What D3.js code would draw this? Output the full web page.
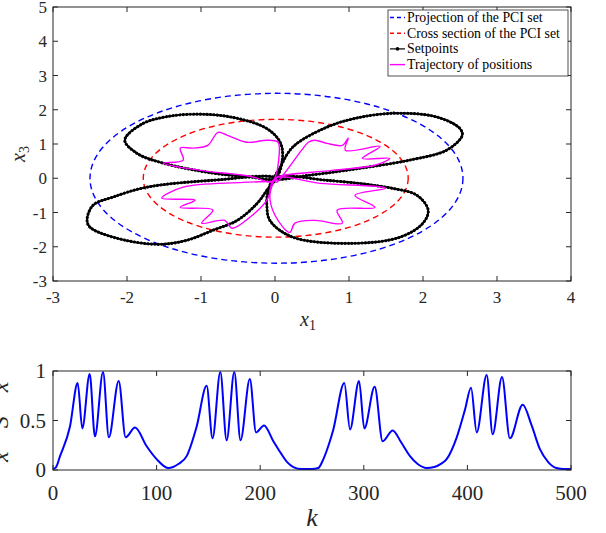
<!DOCTYPE html>
<html><head><meta charset="utf-8">
<script src="https://cdn.jsdelivr.net/npm/d3@7"></script>
<style>
body{margin:0;background:#fff;}
svg{display:block;font-family:"Liberation Serif","Times New Roman",serif;}
</style></head>
<body><svg id="c" width="606" height="533"></svg>
<script>
// ---------- data ----------
const xTicksTop = [-3,-2,-1,0,1,2,3,4];
const yTicksTop = [-3,-2,-1,0,1,2,3,4,5];
const projCenter = [0.02, 0];
const projRadii = [2.52, 2.48];
const crossCenter = [0.01, 0];
const crossRadii = [1.79, 1.72];

const lobeUL = [[0,0],[0.1,0.55],[0.07,1.05],[-0.11,1.45],[-0.51,1.75],[-0.97,1.87],[-1.46,1.8],[-1.8,1.58],[-2.03,1.11],[-1.86,0.72],[-1.51,0.44],[-0.84,0.15],[-0.35,0.04]];
const lobeUR = [[0,0],[0.07,0.32],[0.24,0.91],[0.7,1.49],[1.15,1.78],[1.69,1.9],[2.2,1.78],[2.5,1.45],[2.53,1.25],[2.32,0.82],[1.82,0.53],[1.15,0.29],[0.47,0.09]];
const lobeLR = [[0,0],[-0.1,-0.45],[-0.11,-0.8],[-0.07,-1.23],[0.24,-1.72],[1.05,-1.9],[1.69,-1.72],[2.0,-1.31],[2.07,-0.93],[1.92,-0.5],[1.6,-0.3],[0.7,-0.06]];
const lobeLL = [[0,0],[-0.11,-0.35],[-0.24,-0.73],[-0.51,-1.23],[-0.84,-1.52],[-1.19,-1.81],[-1.59,-1.93],[-2.19,-1.72],[-2.5,-1.43],[-2.54,-1.23],[-2.46,-0.79],[-2.19,-0.55],[-1.73,-0.26],[-0.84,-0.06]];

const trajUL = [[0,0],[-0.03,-0.12],[-0.34,0.06],[-1.01,0.23],[-1.51,0.44],[-1.24,0.53],[-1.28,0.88],[-1.11,0.88],[-0.91,0.96],[-0.77,1.34],[-0.65,1.26],[-0.38,1.05],[-0.11,1.11],[0.04,1.05],[0.05,0.53]];
const trajUR = [[0,0],[0.02,-0.12],[0.14,0.18],[0.36,0.82],[0.45,1.05],[0.54,1.11],[0.7,1.02],[0.91,0.96],[0.99,1.17],[0.95,0.82],[1.42,0.93],[1.18,0.58],[1.55,0.58],[1.35,0.38],[0.77,0.23]];
const trajLL = [[0,0],[0.03,-0.06],[-0.43,-0.12],[-1.24,-0.26],[-1.53,-0.58],[-1.08,-0.64],[-1.28,-0.85],[-0.84,-0.93],[-0.99,-1.31],[-0.68,-1.23],[-0.58,-1.46],[-0.34,-1.14],[-0.11,-0.64]];
const trajLR = [[0,0],[0.61,-0.15],[1.49,-0.29],[1.08,-0.5],[1.35,-0.85],[0.84,-0.93],[0.91,-1.31],[0.54,-1.23],[0.27,-1.31],[0.2,-1.58],[0,-1.08],[-0.07,-0.5]];

const legendLabels = ["Projection of the PCI set","Cross section of the PCI set","Setpoints","Trajectory of positions"];

const xTicksBot = [0,100,200,300,400,500];
const yTicksBot = [0,0.5,1];
const kVals = [0,3,6.8,16.4,23.8,28.3,35.4,40.5,48.3,53.9,63.4,70.1,79.2,90.4,100,111.3,116,121,129,138.7,148.3,154,161.5,167.6,175,181,190,196,203.7,212.7,217.5,226,232,240,250,256,261,266,270.6,281.2,286.7,295.4,300.5,310.5,318.2,327.9,336,344.6,352,360.7,368,374,380,389.7,397.7,403.5,409,418.6,424.4,433.4,441,453.4,462,470,478,486,493,500];
const rVals = [0.01,0.03,0.14,0.44,0.88,0.42,0.97,0.34,0.99,0.33,0.90,0.33,0.43,0.24,0.11,0.02,0.03,0.06,0.14,0.44,0.85,0.32,0.99,0.30,0.99,0.30,0.92,0.38,0.45,0.29,0.21,0.08,0.03,0.01,0.01,0.02,0.11,0.25,0.41,0.88,0.41,0.90,0.42,0.84,0.29,0.40,0.28,0.14,0.06,0.02,0.03,0.06,0.11,0.33,0.61,0.83,0.38,0.96,0.36,0.94,0.32,0.66,0.45,0.21,0.08,0.02,0.01,0.01];

// ---------- drawing ----------
const svg = d3.select("#c");
const axisColor = "#262626";

const T = {l:53, r:571, t:7, b:281};
const x = d3.scaleLinear().domain([-3,4]).range([T.l,T.r]);
const y = d3.scaleLinear().domain([-3,5]).range([T.b,T.t]);

const gTop = svg.append("g");
gTop.append("clipPath").attr("id","clipTop").append("rect")
  .attr("x",T.l).attr("y",T.t).attr("width",T.r-T.l).attr("height",T.b-T.t);
const plotTop = gTop.append("g").attr("clip-path","url(#clipTop)");

plotTop.append("ellipse")
  .attr("cx",x(projCenter[0])).attr("cy",y(projCenter[1]))
  .attr("rx",x(projRadii[0])-x(0)).attr("ry",y(0)-y(projRadii[1]))
  .attr("fill","none").attr("stroke","#0000ff").attr("stroke-width",1.4).attr("stroke-dasharray","6,4");
plotTop.append("ellipse")
  .attr("cx",x(crossCenter[0])).attr("cy",y(crossCenter[1]))
  .attr("rx",x(crossRadii[0])-x(0)).attr("ry",y(0)-y(crossRadii[1]))
  .attr("fill","none").attr("stroke","#ff0000").attr("stroke-width",1.4).attr("stroke-dasharray","6,4");

const closedLine = d3.line().x(d=>x(d[0])).y(d=>y(d[1])).curve(d3.curveCatmullRomClosed.alpha(0.5));

[lobeUL,lobeUR,lobeLR,lobeLL].forEach(l=>{
  plotTop.append("path").attr("d",closedLine(l)).attr("fill","none")
    .attr("stroke","#000").attr("stroke-width",1.9);
  plotTop.append("path").attr("d",closedLine(l)).attr("fill","none")
    .attr("stroke","#000").attr("stroke-width",3.1).attr("stroke-linecap","round")
    .attr("stroke-dasharray","0.1,3.3");
});
[trajUL,trajUR,trajLL,trajLR].forEach(l=>{
  plotTop.append("path").attr("d",closedLine(l)).attr("fill","none")
    .attr("stroke","#ff00ff").attr("stroke-width",1.4);
});

function frame(g, S, xs, ys, xt, yt, tickLen){
  g.append("rect").attr("x",S.l).attr("y",S.t).attr("width",S.r-S.l).attr("height",S.b-S.t)
    .attr("fill","none").attr("stroke",axisColor).attr("stroke-width",1);
  xt.forEach(v=>{
    g.append("line").attr("x1",xs(v)).attr("x2",xs(v)).attr("y1",S.b).attr("y2",S.b-tickLen).attr("stroke",axisColor);
    g.append("line").attr("x1",xs(v)).attr("x2",xs(v)).attr("y1",S.t).attr("y2",S.t+tickLen).attr("stroke",axisColor);
  });
  yt.forEach(v=>{
    g.append("line").attr("y1",ys(v)).attr("y2",ys(v)).attr("x1",S.l).attr("x2",S.l+tickLen).attr("stroke",axisColor);
    g.append("line").attr("y1",ys(v)).attr("y2",ys(v)).attr("x1",S.r).attr("x2",S.r-tickLen).attr("stroke",axisColor);
  });
}
frame(gTop, T, x, y, xTicksTop, yTicksTop, 5);

gTop.selectAll("text.xt").data(xTicksTop).enter().append("text")
  .attr("x",d=>x(d)).attr("y",T.b+22).attr("text-anchor","middle")
  .attr("font-size",17).attr("fill",axisColor).text(d=>d);
gTop.selectAll("text.yt").data(yTicksTop).enter().append("text")
  .attr("x",T.l-6).attr("y",d=>y(d)+6).attr("text-anchor","end")
  .attr("font-size",17).attr("fill",axisColor).text(d=>d);

const xl = gTop.append("text").attr("x",x(0.5)-4).attr("y",326).attr("text-anchor","middle").attr("fill",axisColor);
xl.append("tspan").attr("font-style","italic").attr("font-size",20).text("x");
xl.append("tspan").attr("font-size",14).attr("dy",4).text("1");
const yl = gTop.append("text").attr("transform",`translate(25,${y(1)+10}) rotate(-90)`).attr("text-anchor","middle").attr("fill",axisColor);
yl.append("tspan").attr("font-style","italic").attr("font-size",20).text("x");
yl.append("tspan").attr("font-size",14).attr("dy",4).text("3");

// legend
const L = {x:388, y:10, w:180, h:66};
const lg = svg.append("g");
lg.append("rect").attr("x",L.x).attr("y",L.y).attr("width",L.w).attr("height",L.h)
  .attr("fill","#fff").attr("stroke",axisColor).attr("stroke-width",0.8);
const legStyles = [
  {c:"#0000ff",dash:"4,3",w:1.4},
  {c:"#ff0000",dash:"4,3",w:1.4},
  {c:"#000",dash:null,w:1.2},
  {c:"#ff00ff",dash:null,w:1.4}
];
legendLabels.forEach((t,i)=>{
  const yy = 17.5 + i*15.7;
  const ln = lg.append("line").attr("x1",L.x+2).attr("x2",L.x+17).attr("y1",yy).attr("y2",yy)
    .attr("stroke",legStyles[i].c).attr("stroke-width",legStyles[i].w);
  if(legStyles[i].dash) ln.attr("stroke-dasharray",legStyles[i].dash);
  if(i===2) lg.append("circle").attr("cx",L.x+9.5).attr("cy",yy).attr("r",1.8).attr("fill","#000");
  lg.append("text").attr("x",L.x+19).attr("y",yy+4.5).attr("font-size",13.8).attr("fill","#000").text(t);
});

// bottom plot
const B = {l:53, r:571, t:371, b:470};
const xb = d3.scaleLinear().domain([0,500]).range([B.l,B.r]);
const yb = d3.scaleLinear().domain([0,1]).range([B.b,B.t]);
const gBot = svg.append("g");
gBot.append("clipPath").attr("id","clipBot").append("rect")
  .attr("x",B.l).attr("y",B.t-2).attr("width",B.r-B.l).attr("height",B.b-B.t+2);
const series = kVals.map((k,i)=>[k,rVals[i]]);
gBot.append("g").attr("clip-path","url(#clipBot)").append("path")
  .attr("d",d3.line().x(d=>xb(d[0])).y(d=>yb(d[1])).curve(d3.curveMonotoneX)(series))
  .attr("fill","none").attr("stroke","#0000ff").attr("stroke-width",2);
frame(gBot, B, xb, yb, xTicksBot, yTicksBot, 5);
gBot.selectAll("text.xt").data(xTicksBot).enter().append("text")
  .attr("x",d=>xb(d)).attr("y",B.b+30).attr("text-anchor","middle")
  .attr("font-size",21).attr("fill",axisColor).text(d=>d);
gBot.selectAll("text.yt").data(yTicksBot).enter().append("text")
  .attr("x",B.l-7).attr("y",d=>yb(d)+7).attr("text-anchor","end")
  .attr("font-size",21).attr("fill",axisColor).text(d=>d);
gBot.append("text").attr("x",xb(250)).attr("y",526).attr("text-anchor","middle")
  .attr("font-style","italic").attr("font-size",26).attr("fill",axisColor).text("k");
const byl = gBot.append("text").attr("transform",`translate(8,462) rotate(-90)`)
  .attr("text-anchor","start").attr("fill",axisColor).attr("font-size",24);
byl.append("tspan").attr("font-style","italic").text("x");
byl.append("tspan").attr("font-size",16).attr("dy",-9).text("\u22A4");
byl.append("tspan").attr("font-style","italic").attr("dy",9).attr("dx",9).text("S");
byl.append("tspan").attr("font-style","italic").attr("dx",24).text("x");
</script></body></html>
